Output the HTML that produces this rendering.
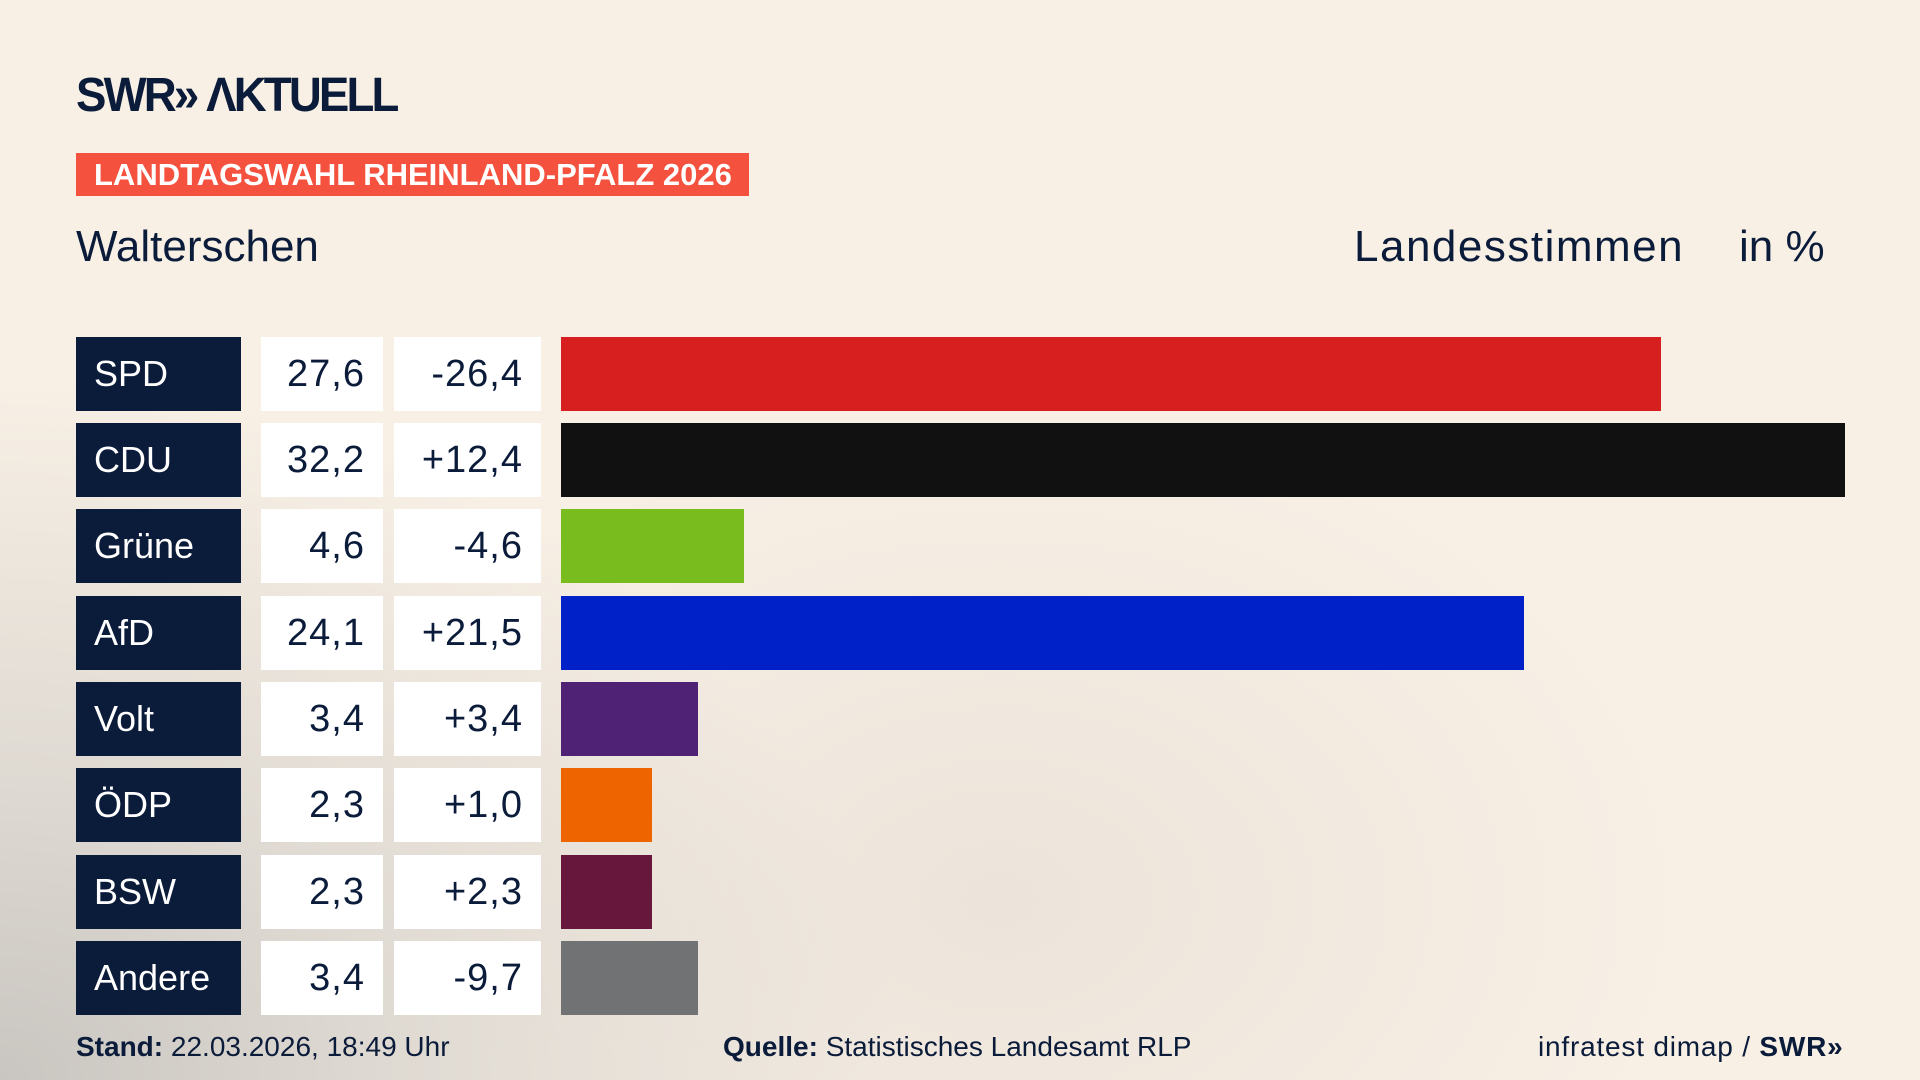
<!DOCTYPE html>
<html><head><meta charset="utf-8"><style>
*{margin:0;padding:0;box-sizing:border-box}
body{width:1920px;height:1080px;overflow:hidden;position:relative;font-family:"Liberation Sans",sans-serif;color:#0b1b3a;
background:radial-gradient(ellipse 900px 700px at 0px 1080px,#c9c5c0 0%,#ddd8d1 40%,rgba(248,239,228,0) 100%),radial-gradient(ellipse 700px 500px at 1000px 900px,#ece4da 0%,rgba(248,239,228,0) 100%),#f8f0e5;}
.abs{position:absolute}
.logo{left:76px;top:68px;font-size:48px;font-weight:bold;letter-spacing:-3px;color:#0b1b3a;transform:scaleX(0.95);transform-origin:left}
.banner{left:76px;top:153px;width:673px;height:43px;background:#f4513e;color:#fff;font-weight:bold;font-size:31px;line-height:43px;padding-left:18px}
.title{top:222px;font-size:44px;color:#0b1b3a}
.row{position:absolute;left:0;height:74px}
.p{position:absolute;left:76px;width:165px;height:74px;background:#0b1b3a;color:#fff;font-size:36px;line-height:74px;padding-left:18px}
.v{position:absolute;left:261px;width:122px;height:74px;background:#fff;font-size:38px;line-height:74px;text-align:right;padding-right:18px;letter-spacing:1px}
.d{position:absolute;left:394px;width:147px;height:74px;background:#fff;font-size:38px;line-height:74px;text-align:right;padding-right:18px;letter-spacing:1px}
.b{position:absolute;left:561px;height:74px}
.foot{top:1031px;font-size:28px;color:#0b1b3a}
</style></head><body>
<div class="abs logo">SWR» ΛKTUELL</div>
<div class="abs banner">LANDTAGSWAHL RHEINLAND-PFALZ 2026</div>
<div class="abs title" style="left:76px">Walterschen</div>
<div class="abs title" style="left:1354px;letter-spacing:1.5px">Landesstimmen</div>
<div class="abs title" style="left:1739px">in %</div>

<div class="row" style="top:337px"><div class="p">SPD</div><div class="v">27,6</div><div class="d">-26,4</div><div class="b" style="width:1100px;background:#d81f20"></div></div>
<div class="row" style="top:423px"><div class="p">CDU</div><div class="v">32,2</div><div class="d">+12,4</div><div class="b" style="width:1284px;background:#111"></div></div>
<div class="row" style="top:509px"><div class="p">Grüne</div><div class="v">4,6</div><div class="d">-4,6</div><div class="b" style="width:183px;background:#78bc1e"></div></div>
<div class="row" style="top:596px"><div class="p">AfD</div><div class="v">24,1</div><div class="d">+21,5</div><div class="b" style="width:963px;background:#0021c8"></div></div>
<div class="row" style="top:682px"><div class="p">Volt</div><div class="v">3,4</div><div class="d">+3,4</div><div class="b" style="width:137px;background:#502275"></div></div>
<div class="row" style="top:768px"><div class="p">ÖDP</div><div class="v">2,3</div><div class="d">+1,0</div><div class="b" style="width:91px;background:#ee6500"></div></div>
<div class="row" style="top:855px"><div class="p">BSW</div><div class="v">2,3</div><div class="d">+2,3</div><div class="b" style="width:91px;background:#66173b"></div></div>
<div class="row" style="top:941px"><div class="p">Andere</div><div class="v">3,4</div><div class="d">-9,7</div><div class="b" style="width:137px;background:#717273"></div></div>

<div class="abs foot" style="left:76px"><b>Stand:</b> 22.03.2026, 18:49 Uhr</div>
<div class="abs foot" style="left:723px"><b>Quelle:</b> Statistisches Landesamt RLP</div>
<div class="abs foot" style="left:1538px;letter-spacing:0.8px">infratest dimap / <b>SWR»</b></div>
</body></html>
